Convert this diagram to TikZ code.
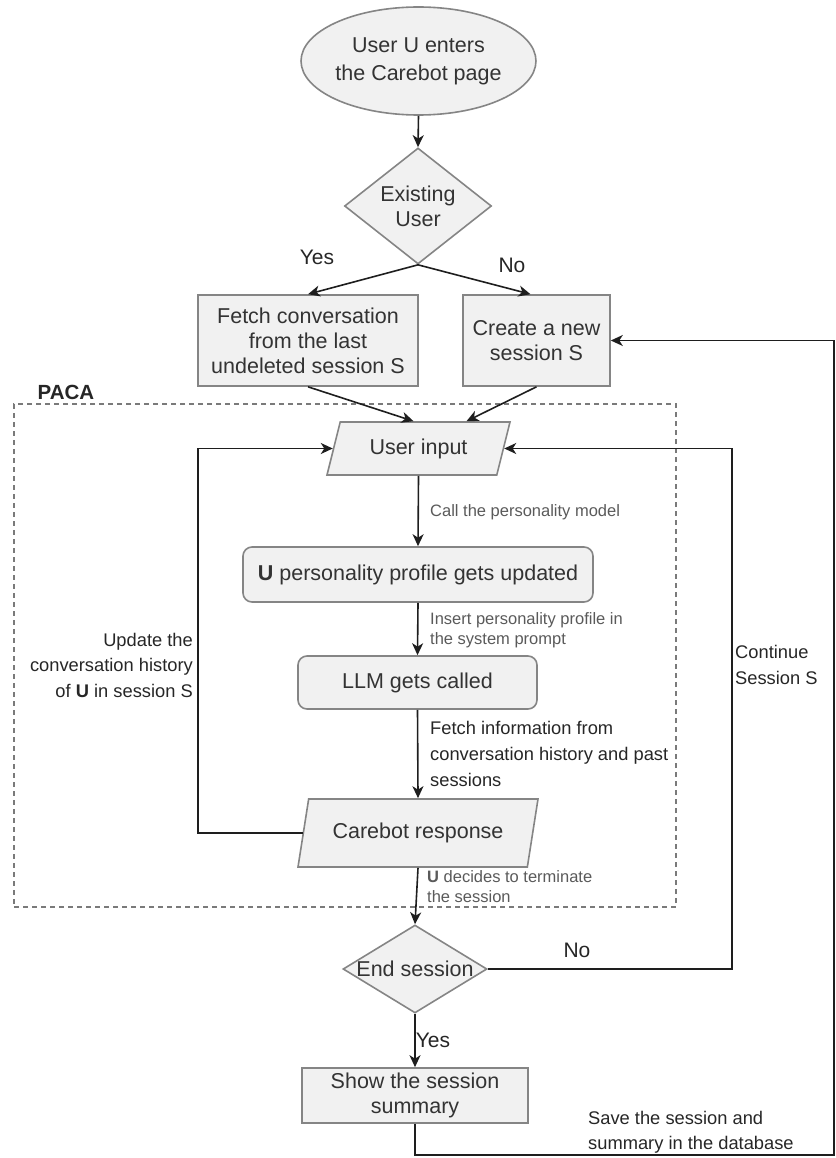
\documentclass[tikz,border=0pt]{standalone}
\usepackage{fontspec}
\setmainfont{Liberation Sans}
\usetikzlibrary{shapes.geometric,arrows.meta,calc}

\definecolor{boxfill}{HTML}{F1F1F1}
\definecolor{boxline}{HTML}{858585}
\definecolor{txt}{HTML}{333333}
\definecolor{lbl}{HTML}{5A5A5A}
\definecolor{dark}{HTML}{262626}
\definecolor{wire}{HTML}{1E1E1E}
\definecolor{frame}{HTML}{7A7A7A}

\begin{document}
\begin{tikzpicture}[x=1pt,y=-1pt,
  base/.style={draw=boxline, fill=boxfill, line width=1.6pt, text=txt,
    font=\fontsize{21.5}{25}\selectfont, align=center, inner sep=0pt},
  startnode/.style={base, ellipse, minimum width=187pt, minimum height=108pt,
    font=\fontsize{21.5}{28}\selectfont},
  decision/.style={base, diamond},
  plainbox/.style={base, rectangle},
  roundbox/.style={base, rectangle, rounded corners=9pt},
  iobox/.style={base, trapezium, trapezium stretches body=true},
  flow/.style={draw=wire, line width=1.6pt, -{Stealth[length=12pt,width=11pt,inset=3.5pt]}},
  pacabox/.style={draw=frame, line width=1.5pt, dash pattern=on 5pt off 4pt, inner sep=0pt},
  smalllbl/.style={text=lbl, font=\fontsize{16.5}{20}\selectfont, align=left, inner sep=0pt, anchor=west},
  midlbl/.style={text=dark, font=\fontsize{18.3}{26}\selectfont, align=left, inner sep=0pt},
  choice/.style={text=dark, font=\fontsize{21}{25}\selectfont, inner sep=0pt}
]
\useasboundingbox (0,0) rectangle (835,1158);

% PACA group frame
\node[pacabox, minimum width=662pt, minimum height=503pt] (paca) at (345,655.5) {};
\node[text=dark, font=\bfseries\fontsize{20.5}{24}\selectfont, inner sep=0pt] (pacalbl) at (66,392) {PACA};

% main flow
\node[startnode] (start) at (418.5,61) {User U enters\\the Carebot page};
\node[decision, minimum width=147pt, minimum height=108pt] (exist) at (418,206) {Existing\\User};
\node[plainbox, minimum width=220pt, minimum height=91pt] (fetch) at (308,340.5)
  {Fetch conversation\\from the last\\undeleted session S};
\node[plainbox, minimum width=147pt, minimum height=91pt] (create) at (536.5,340.5)
  {Create a new\\session S};
\node[iobox, trapezium left angle=56.6, trapezium right angle=123.4,
  minimum width=183pt, minimum height=53pt] (input) at (418.5,448.5) {User input};
\node[roundbox, minimum width=350pt, minimum height=55pt] (profile) at (418,574.5)
  {\textbf{U} personality profile gets updated};
\node[roundbox, minimum width=239pt, minimum height=53pt] (llm) at (417.5,682.5) {LLM gets called};
\node[iobox, trapezium left angle=62, trapezium right angle=118,
  minimum width=240pt, minimum height=68pt] (resp) at (418,833) {Carebot response};
\node[decision, minimum width=144pt, minimum height=88pt,
  label={[text=txt, font=\fontsize{21.5}{25}\selectfont]center:End session}] (endd) at (415,969) {};
\node[plainbox, minimum width=226pt, minimum height=55pt] (show) at (415,1095.5)
  {Show the session\\summary};

% turning points of the loops
\coordinate (leftrun) at (198,640);
\coordinate (rightrun) at (732,700);
\coordinate (bottomrun) at (834,1155);

% connectors
\draw[flow] (start.south) -- (exist.north);
\draw[flow] (exist.south) -- (fetch.north);
\draw[flow] (exist.south) -- ($(create.north)+(-6,0)$);
\draw[flow] (fetch.south) -- ($(input.north)+(-5,0)$);
\draw[flow] (create.south) -- ($(input.north)+(48,0)$);
\draw[flow] (input.south) -- (profile.north);
\draw[flow] (profile.south) -- (llm.north);
\draw[flow] (llm.south) -- (resp.north);
\draw[flow] (resp.south) -- (endd.north);
\draw[flow] (endd.south) -- (show.north);
\draw[flow] (resp.west) -- (resp.west -| leftrun) |- (input.west);
\draw[flow] (endd.east) -- (endd.east -| rightrun) |- (input.east);
\draw[flow] (show.south) |- (bottomrun) |- (create.east);

% connector labels
\node[choice] (yes1) at (317,257) {Yes};
\node[choice] (no1) at (512,265) {No};
\node[smalllbl] (callm) at (430,512) {Call the personality model};
\node[smalllbl] (insert) at (430,630) {Insert personality profile in\\the system prompt};
\node[midlbl, anchor=west] (fetchinfo) at (430,754)
  {Fetch information from\\conversation history and past\\sessions};
\node[midlbl, anchor=east, align=right, font=\fontsize{18.3}{25.5}\selectfont] (update) at (193,665)
  {Update the\\conversation history\\of \textbf{U} in session S};
\node[midlbl, anchor=west] (cont) at (735,665) {Continue\\Session S};
\node[smalllbl] (term) at (427,887) {\textbf{U} decides to terminate\\the session};
\node[choice] (no2) at (577,950) {No};
\node[choice] (yes2) at (433,1040) {Yes};
\node[midlbl, anchor=west, font=\fontsize{18.3}{25}\selectfont] (save) at (588,1132.5)
  {Save the session and\\summary in the database};
\end{tikzpicture}
\end{document}
